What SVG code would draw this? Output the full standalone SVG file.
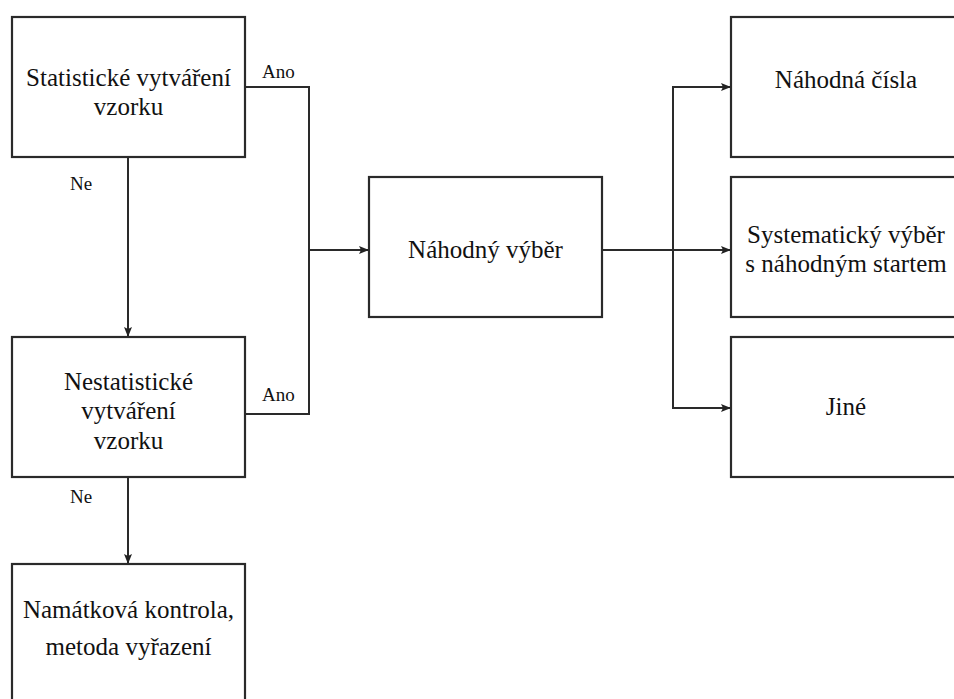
<svg xmlns="http://www.w3.org/2000/svg" width="954" height="699" viewBox="0 0 954 699">
  <defs>
    <marker id="arrow" viewBox="0 0 10 10" refX="10" refY="5" markerWidth="10" markerHeight="10" markerUnits="userSpaceOnUse" orient="auto">
      <path d="M0,1 L10,5 L0,9 L2,5 Z" fill="#222"/>
    </marker>
    <style>
      .box { fill: #fff; stroke: #2a2a2a; stroke-width: 2.2; }
      .node { font-family: "Liberation Serif", "Times New Roman", serif; font-size: 25px; fill: #111; text-anchor: middle; }
      .lbl { font-family: "Liberation Serif", "Times New Roman", serif; font-size: 19px; fill: #111; }
      .wire { fill: none; stroke: #2a2a2a; stroke-width: 2; }
    </style>
  </defs>
  <rect width="954" height="699" fill="#fff"/>

  <g id="connectors">
    <path class="wire" d="M128,157 V337" marker-end="url(#arrow)"/>
    <path class="wire" d="M128,477 V564" marker-end="url(#arrow)"/>
    <path class="wire" d="M245,87 H309 V414 H245"/>
    <path class="wire" d="M309,250 H369" marker-end="url(#arrow)"/>
    <path class="wire" d="M602,250 H731" marker-end="url(#arrow)"/>
    <path class="wire" d="M731,87 H673 V408 H731" marker-end="url(#arrow)"/>
    <path class="wire" d="M673,87 H731" marker-end="url(#arrow)"/>
    <text class="lbl" x="262" y="78">Ano</text>
    <text class="lbl" x="262" y="401">Ano</text>
    <text class="lbl" x="70" y="190">Ne</text>
    <text class="lbl" x="70" y="503">Ne</text>
  </g>

  <g id="statisticke">
    <rect class="box" x="12" y="17" width="233" height="140"/>
    <text class="node" x="128.5" y="86">Statistické vytváření</text>
    <text class="node" x="128.5" y="115">vzorku</text>
  </g>

  <g id="nestatisticke">
    <rect class="box" x="12" y="337" width="233" height="140"/>
    <text class="node" x="128.5" y="390">Nestatistické</text>
    <text class="node" x="128.5" y="419">vytváření</text>
    <text class="node" x="128.5" y="449">vzorku</text>
  </g>

  <g id="namatkova">
    <rect class="box" x="12" y="564" width="233" height="150"/>
    <text class="node" x="128.5" y="618">Namátková kontrola,</text>
    <text class="node" x="128.5" y="655">metoda vyřazení</text>
  </g>

  <g id="nahodny-vyber">
    <rect class="box" x="369" y="177" width="233" height="140"/>
    <text class="node" x="485.5" y="258">Náhodný výběr</text>
  </g>

  <g id="nahodna-cisla">
    <rect class="box" x="731" y="17" width="233" height="140"/>
    <text class="node" x="846" y="88">Náhodná čísla</text>
  </g>

  <g id="systematicky">
    <rect class="box" x="731" y="177" width="233" height="140"/>
    <text class="node" x="846" y="243">Systematický výběr</text>
    <text class="node" x="846" y="272">s náhodným startem</text>
  </g>

  <g id="jine">
    <rect class="box" x="731" y="337" width="233" height="140"/>
    <text class="node" x="846" y="415">Jiné</text>
  </g>
</svg>
